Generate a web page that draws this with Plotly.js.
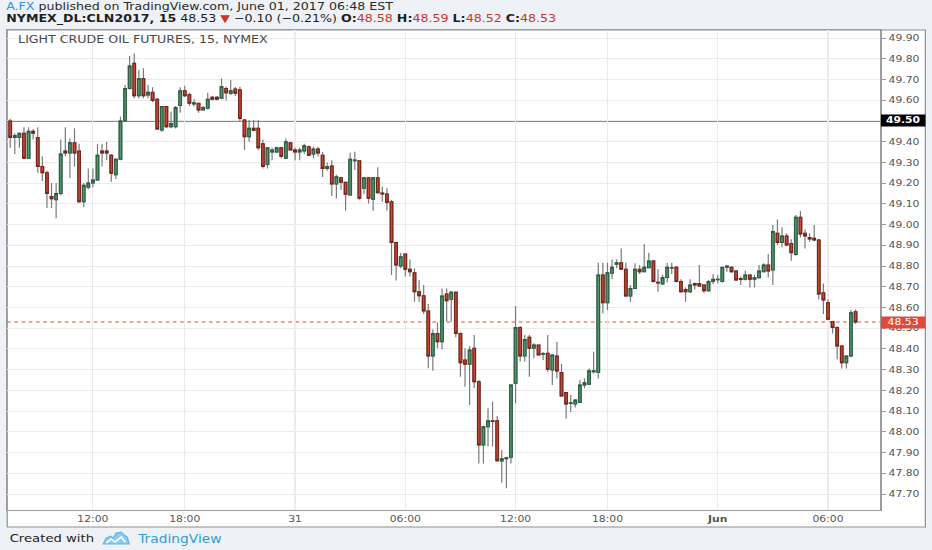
<!DOCTYPE html>
<html>
<head>
<meta charset="utf-8">
<script src="https://cdn.plot.ly/plotly-3.0.1.min.js"></script>
<style>
  html, body { margin:0; padding:0; background:#eef2f6; overflow:hidden; width:932px; height:550px; }
  #chart { width:776px; height:550px; transform:scaleX(1.20103); transform-origin:0 0; }
</style>
</head>
<body>
<div id="chart"></div>
<script>
// ---- data: 15-minute bars, NYMEX CLN2017 ----
const open = [
49.50,49.42,49.42,49.44,49.32,49.45,49.42,49.28,49.25,49.135,
49.12,49.15,49.355,49.345,49.395,49.355,49.11,49.18,49.20,49.215,
49.355,49.355,49.335,49.24,49.315,49.50,49.657,49.778,49.622,49.705,
49.625,49.638,49.604,49.456,49.569,49.472,49.472,49.574,49.646,49.627,
49.582,49.585,49.553,49.561,49.614,49.614,49.609,49.657,49.632,49.654,
49.65,49.505,49.424,49.465,49.465,49.39,49.29,49.35,49.35,49.37,
49.32,49.395,49.36,49.35,49.355,49.375,49.34,49.365,49.335,49.27,
49.282,49.196,49.226,49.204,49.143,49.308,49.308,49.175,49.226,49.122,
49.226,49.152,49.147,49.11,48.913,48.80,48.858,48.784,48.768,48.676,
48.657,48.583,48.366,48.475,48.435,48.665,48.64,48.673,48.475,48.347,
48.326,48.403,48.242,47.937,48.025,48.054,48.054,47.86,47.87,47.877,
48.234,48.504,48.366,48.456,48.403,48.419,48.375,48.379,48.298,48.366,
48.286,48.19,48.137,48.134,48.142,48.226,48.23,48.29,48.286,48.757,
48.623,48.765,48.808,48.816,48.784,48.655,48.692,48.784,48.773,48.792,
48.824,48.722,48.713,48.745,48.792,48.794,48.725,48.687,48.676,48.716,
48.716,48.708,48.681,48.725,48.734,48.725,48.794,48.794,48.776,48.74,
48.736,48.757,48.736,48.744,48.773,48.805,48.781,48.958,48.913,48.945,
48.909,48.856,49.035,48.958,48.938,48.934,48.926,48.671,48.623,48.532,
48.504,48.414,48.334,48.366,48.58
];
const high = [
49.51,49.44,49.44,49.47,49.47,49.46,49.47,49.33,49.26,49.20,
49.20,49.41,49.47,49.415,49.465,49.39,49.20,49.27,49.27,49.39,
49.39,49.40,49.34,49.32,49.52,49.673,49.813,49.826,49.746,49.754,
49.673,49.662,49.61,49.572,49.572,49.545,49.572,49.662,49.67,49.636,
49.604,49.588,49.572,49.636,49.62,49.62,49.705,49.665,49.697,49.665,
49.665,49.51,49.505,49.505,49.505,49.41,49.37,49.37,49.375,49.375,
49.415,49.40,49.37,49.37,49.39,49.38,49.375,49.375,49.35,49.30,
49.31,49.24,49.23,49.207,49.347,49.351,49.31,49.23,49.23,49.23,
49.276,49.183,49.175,49.118,48.915,48.864,48.86,48.832,48.789,48.733,
48.708,48.617,48.495,48.527,48.692,48.692,48.681,48.68,48.48,48.403,
48.414,48.467,48.25,48.03,48.114,48.146,48.077,47.912,47.88,48.23,
48.607,48.511,48.467,48.467,48.427,48.42,48.385,48.467,48.375,48.435,
48.327,48.19,48.178,48.157,48.25,48.258,48.306,48.387,48.816,48.816,
48.816,48.832,48.832,48.885,48.816,48.708,48.813,48.805,48.906,48.864,
48.829,48.784,48.757,48.816,48.816,48.80,48.736,48.697,48.736,48.72,
48.805,48.71,48.733,48.762,48.757,48.797,48.805,48.80,48.781,48.749,
48.778,48.76,48.757,48.805,48.813,48.858,48.998,49.025,48.987,48.958,
48.929,49.046,49.065,48.977,48.958,48.998,48.93,48.716,48.639,48.535,
48.51,48.42,48.37,48.588,48.59
];
const low = [
49.37,49.34,49.37,49.32,49.32,49.41,49.25,49.21,49.08,49.08,
49.03,49.14,49.33,49.225,49.28,49.105,49.085,49.17,49.18,49.21,
49.28,49.31,49.207,49.22,49.31,49.496,49.65,49.609,49.609,49.609,
49.61,49.59,49.456,49.448,49.465,49.465,49.464,49.54,49.615,49.572,
49.569,49.54,49.55,49.555,49.60,49.60,49.605,49.598,49.625,49.62,
49.50,49.36,49.40,49.45,49.36,49.27,49.27,49.31,49.345,49.32,
49.32,49.36,49.31,49.31,49.34,49.33,49.32,49.33,49.23,49.26,
49.138,49.126,49.167,49.067,49.14,49.263,49.12,49.147,49.102,49.067,
49.15,49.11,49.067,48.757,48.73,48.789,48.749,48.749,48.628,48.628,
48.569,48.307,48.295,48.403,48.398,48.532,48.532,48.456,48.266,48.218,
48.13,48.21,47.848,47.848,47.929,47.93,47.856,47.755,47.728,47.848,
48.138,48.339,48.339,48.266,48.355,48.37,48.347,48.29,48.226,48.258,
48.17,48.065,48.097,48.118,48.14,48.21,48.228,48.282,48.258,48.572,
48.588,48.736,48.789,48.781,48.652,48.628,48.69,48.762,48.77,48.79,
48.72,48.676,48.708,48.72,48.762,48.72,48.671,48.628,48.67,48.687,
48.70,48.671,48.676,48.713,48.716,48.72,48.773,48.768,48.728,48.708,
48.73,48.697,48.697,48.74,48.77,48.745,48.709,48.901,48.89,48.895,
48.826,48.85,48.938,48.885,48.917,48.92,48.639,48.569,48.54,48.475,
48.35,48.306,48.306,48.36,48.52
];
const close = [
49.42,49.43,49.44,49.32,49.45,49.44,49.28,49.25,49.15,49.125,
49.15,49.34,49.345,49.395,49.345,49.11,49.19,49.20,49.215,49.335,
49.345,49.345,49.247,49.315,49.50,49.657,49.765,49.622,49.705,49.622,
49.638,49.598,49.461,49.569,49.472,49.487,49.565,49.646,49.622,49.585,
49.588,49.553,49.565,49.604,49.604,49.604,49.665,49.636,49.646,49.633,
49.512,49.424,49.465,49.455,49.37,49.28,49.37,49.36,49.37,49.33,
49.40,49.36,49.35,49.36,49.38,49.335,49.365,49.345,49.27,49.28,
49.196,49.231,49.204,49.146,49.315,49.312,49.127,49.226,49.127,49.226,
49.154,49.148,49.106,48.913,48.805,48.845,48.784,48.773,48.676,48.657,
48.583,48.366,48.475,48.435,48.655,48.633,48.673,48.475,48.334,48.326,
48.395,48.242,47.937,48.025,48.054,48.05,47.861,47.87,47.875,48.226,
48.504,48.366,48.446,48.403,48.419,48.371,48.378,48.302,48.371,48.294,
48.173,48.134,48.14,48.154,48.226,48.237,48.295,48.295,48.757,48.623,
48.768,48.794,48.816,48.784,48.655,48.692,48.784,48.773,48.794,48.824,
48.725,48.718,48.745,48.794,48.79,48.725,48.676,48.676,48.708,48.708,
48.704,48.681,48.725,48.736,48.736,48.794,48.80,48.773,48.733,48.735,
48.757,48.736,48.744,48.776,48.805,48.776,48.966,48.913,48.945,48.901,
48.864,49.035,48.954,48.945,48.93,48.926,48.665,48.636,48.543,48.504,
48.414,48.334,48.366,48.575,48.53
];
const firstBar = '2017-05-30T07:30:00Z';
const tickTimes  = ['05-30 12:00','05-30 18:00','05-31 00:00','05-31 06:00','05-31 12:00','05-31 18:00','06-01 00:00','06-01 06:00'];
const tickLabels = ['12:00','18:00','31','06:00','12:00','18:00','<b>Jun</b>','06:00'];
const priceLabels = ['47.70','47.80','47.90','48.00','48.10','48.20','48.30','48.40','48.50','48.60','48.70','48.80','48.90','49.00','49.10','49.20','49.30','49.40','49.50','49.60','49.70','49.80','49.90'];
const markedLevel = 49.50;
const lastPrice = 48.53;

// ---- bar time categories (session break 17:00-18:00 skipped) ----
const pad = n => String(n).padStart(2,'0');
const times = [];
let t = new Date(firstBar).getTime();
while (times.length < open.length) {
  const d = new Date(t);
  if (d.getUTCHours() !== 17) {
    times.push(pad(d.getUTCMonth()+1)+'-'+pad(d.getUTCDate())+' '+pad(d.getUTCHours())+':'+pad(d.getUTCMinutes()));
  }
  t += 15*60000;
}

// ---- geometry helpers (page pixels -> paper fractions) ----
const L = 7, R = 880, T = 30, B = 510;
const PX = x => (x - L) / (R - L);
const PY = y => (B - y) / (B - T);
const S = 932/776;

// the marked level label is shown in its own box, so its tick text is left empty
const yTickText = priceLabels.map(s => Number(s) === markedLevel ? '' : s);

const upFill = '#4f9a6e', dnFill = '#cc4934';
const wicks = {
  type:'candlestick', x:times, open:open, high:high, low:low, close:close,
  increasing:{line:{color:'#7a7a7c', width:1}, fillcolor:upFill},
  decreasing:{line:{color:'#7a7a7c', width:1}, fillcolor:dnFill},
  hoverinfo:'skip', showlegend:false
};
const bodies = {
  type:'candlestick', x:times, open:open, close:close,
  high: open.map((o,i)=>Math.max(o, close[i])),
  low:  open.map((o,i)=>Math.min(o, close[i])),
  increasing:{line:{color:'#2d5e42', width:1}, fillcolor:upFill},
  decreasing:{line:{color:'#74261b', width:1}, fillcolor:dnFill},
  hoverinfo:'skip', showlegend:false
};

const red = '#c8372d';
const logoPts = [[103,544],[106,538],[110,536],[113,538],[116,533],[121,532],[124,535],[127,537],[129,544]];
const logoPath = 'M' + logoPts.map(p => PX(p[0]) + ',' + PY(p[1])).join(' L') + ' Z';
const logoLine = 'M' + [[106,543],[111,539],[115,542],[121,537],[125,542]].map(p => PX(p[0]) + ',' + PY(p[1])).join(' L');

const layout = {
  width:776, height:550,
  margin:{l:L/S, r:(932-R)/S, t:T, b:550-B, pad:0},
  paper_bgcolor:'#eef2f6', plot_bgcolor:'#ffffff',
  font:{family:'DejaVu Sans', color:'#555'},
  boxmode:'overlay', boxgap:0.2,
  showlegend:false,
  xaxis:{
    type:'category', range:[-0.65, 189.4], rangeslider:{visible:false},
    tickmode:'array', tickvals:tickTimes, ticktext:tickLabels,
    showgrid:true, gridcolor:'#ebebeb', gridwidth:1,
    showline:true, mirror:true, linecolor:'#9c9c9c', linewidth:1,
    ticks:'', tickfont:{family:'DejaVu Sans', size:9, color:'#555'},
    zeroline:false, fixedrange:true
  },
  yaxis:{
    side:'right', range:[47.6231, 49.9386],
    tickmode:'array', tickvals:priceLabels.map(Number), ticktext:yTickText,
    showgrid:true, gridcolor:'#ebebeb', gridwidth:1,
    showline:true, mirror:true, linecolor:'#9c9c9c', linewidth:1,
    ticks:'outside', ticklen:4, tickcolor:'#9c9c9c', tickwidth:1,
    tickfont:{family:'DejaVu Sans', size:9, color:'#555'},
    zeroline:false, fixedrange:true
  },
  shapes:[
    {type:'rect', xref:'paper', yref:'paper', x0:PX(7), x1:PX(925), y0:PY(527), y1:PY(30),
     fillcolor:'#ffffff', line:{color:'#8e8e8e', width:1}, layer:'below'},
    {type:'line', xref:'paper', yref:'y', x0:0, x1:1, y0:markedLevel, y1:markedLevel,
     line:{color:'#1b1b1b', width:1}, layer:'below'},
    {type:'line', xref:'paper', yref:'y', x0:0, x1:1, y0:lastPrice, y1:lastPrice,
     line:{color:'#e0493b', width:1, dash:'dot'}, layer:'below'},
    {type:'path', xref:'paper', yref:'paper', path:logoPath, fillcolor:'#8ccbee', line:{color:'#5fb3e3', width:1}},
    {type:'path', xref:'paper', yref:'paper', path:logoLine, line:{color:'#ffffff', width:1.5}}
  ],
  annotations:[
    {xref:'paper', yref:'paper', x:PX(4), y:PY(6.5), xanchor:'left', yanchor:'middle', showarrow:false,
     text:'<span style="color:#2a95e8">A.FX</span> published on TradingView.com, June 01, 2017 06:48 EST',
     font:{family:'DejaVu Sans', size:10.5, color:'#2a2a2a'}, borderpad:0},
    {xref:'paper', yref:'paper', x:PX(4), y:PY(19), xanchor:'left', yanchor:'middle', showarrow:false,
     text:'<b>NYMEX_DL:CLN2017, 15</b> 48.53 <span style="color:'+red+'">▼</span> −0.10 (−0.21%) <b>O:</b><span style="color:'+red+'">48.58</span> <b>H:</b><span style="color:'+red+'">48.59</span> <b>L:</b><span style="color:'+red+'">48.52</span> <b>C:</b><span style="color:'+red+'">48.53</span>',
     font:{family:'DejaVu Sans', size:10.5, color:'#1e1e1e'}, borderpad:0},
    {xref:'paper', yref:'paper', x:PX(16), y:PY(39.5), xanchor:'left', yanchor:'middle', showarrow:false,
     text:'LIGHT CRUDE OIL FUTURES, 15, NYMEX',
     font:{family:'DejaVu Sans', size:10.5, color:'#4a4a4a'}},
    {xref:'paper', yref:'y', x:1, y:markedLevel, xanchor:'left', yanchor:'middle', showarrow:false,
     text:'<b>49.50</b>', bgcolor:'#000000', width:43/S, height:11, borderpad:0, align:'center',
     font:{family:'DejaVu Sans', size:9, color:'#ffffff'}},
    {xref:'paper', yref:'y', x:1, y:lastPrice, xanchor:'left', yanchor:'middle', showarrow:false,
     text:'48.53', bgcolor:'#df4a3a', width:43/S, height:11, borderpad:0, align:'center',
     font:{family:'DejaVu Sans', size:9, color:'#ffffff'}},
    {xref:'paper', yref:'paper', x:PX(7), y:PY(538.5), xanchor:'left', yanchor:'middle', showarrow:false,
     text:'Created with', font:{family:'DejaVu Sans', size:11, color:'#222'}},
    {xref:'paper', yref:'paper', x:PX(134), y:PY(538.5), xanchor:'left', yanchor:'middle', showarrow:false,
     text:'TradingView', font:{family:'DejaVu Sans', size:11.5, color:'#2f9cd8'}}
  ]
};

Plotly.newPlot('chart', [wicks, bodies], layout, {staticPlot:true, displayModeBar:false});
</script>
</body>
</html>
